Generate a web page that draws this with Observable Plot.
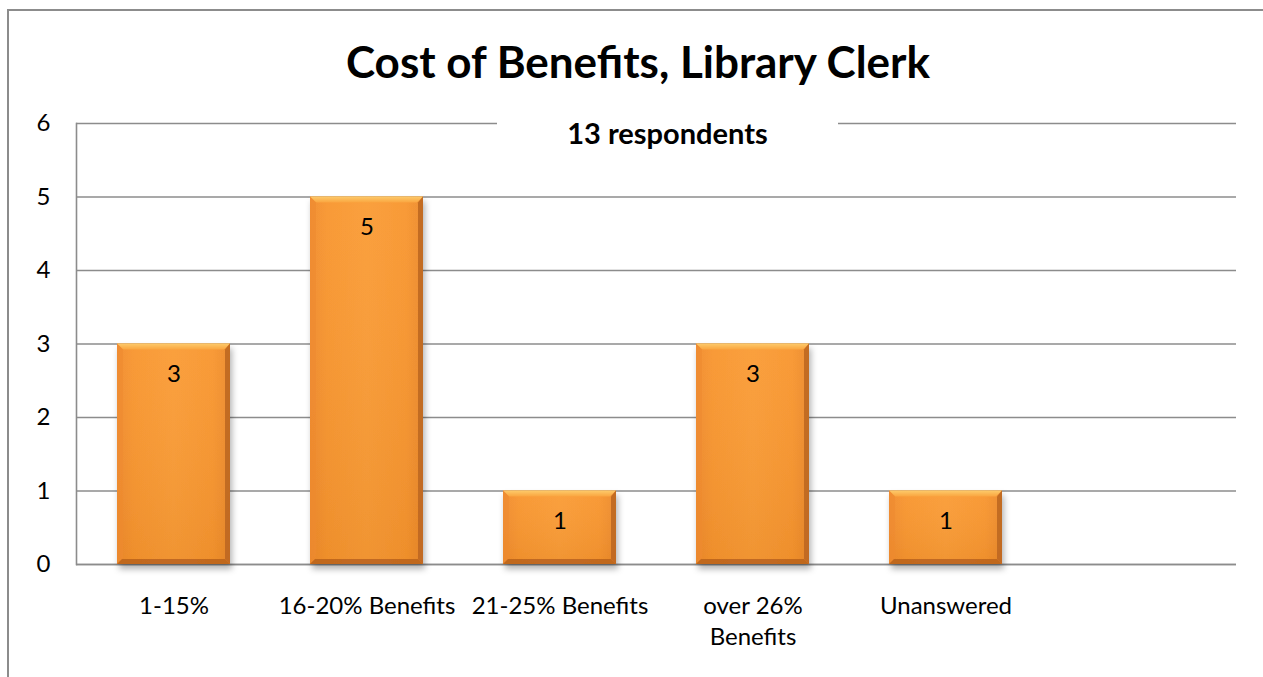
<!DOCTYPE html>
<html>
<head>
<meta charset="utf-8">
<script src="https://cdn.jsdelivr.net/npm/d3@7"></script>
<script src="https://cdn.jsdelivr.net/npm/@observablehq/plot@0.6"></script>
<style>
  html, body { margin: 0; padding: 0; background: #fff; }
  #wrap { position: relative; width: 1263px; height: 677px; overflow: hidden; background: #fff; font-family: Lato, "Open Sans", sans-serif; }
  #border { position: absolute; left: 7px; top: 9px; width: 1400px; height: 800px; border: 2px solid #8c8c8c; box-sizing: border-box; }
  #title { position: absolute; left: 0; top: 39px; width: 1276px; text-align: center; font-weight: bold; font-size: 44px; line-height: 44px; color: #000; }
  #chart { position: absolute; left: 0; top: 100px; }
  #subtitle { position: absolute; left: 497px; top: 111px; width: 341px; height: 44px; background: #fff; text-align: center; font-weight: bold; font-size: 29px; line-height: 44px; color: #000; }
</style>
</head>
<body>
<div id="wrap">
  <div id="border"></div>
  <div id="title">Cost of Benefits, Library Clerk</div>
  <div id="chart"></div>
  <div id="subtitle">13 respondents</div>
</div>
<script>
const categories = ["1-15%", "16-20% Benefits", "21-25% Benefits", "over 26% Benefits", "Unanswered", ""];
const counts = [3, 5, 1, 3, 1];
const yTicks = [0, 1, 2, 3, 4, 5, 6];
const tickLabels = {"over 26% Benefits": "over 26%\nBenefits"};

const data = counts.map((c, i) => ({category: categories[i], count: c}));

const chart = Plot.plot({
  width: 1263,
  height: 577,
  marginTop: 23,
  marginBottom: 113,
  marginLeft: 76,
  marginRight: 27,
  style: {fontFamily: "Lato, 'Open Sans', sans-serif", fontSize: "24px", color: "#000", background: "transparent", overflow: "visible"},
  x: {domain: categories, paddingInner: 0.415, paddingOuter: 0.2075, label: null},
  y: {domain: [0, 6], ticks: yTicks, label: null},
  marks: [
    Plot.gridY(yTicks, {stroke: "#8c8c8c", strokeOpacity: 1, strokeWidth: 1.6}),
    Plot.frame({anchor: "left", stroke: "#8c8c8c", strokeWidth: 1.6}),
    Plot.ruleY([0], {stroke: "#8c8c8c", strokeWidth: 1.6}),
    Plot.axisY(yTicks, {tickSize: 0, tickPadding: 26, fontSize: 24, tickFormat: d => String(d), label: null}),
    Plot.axisX({tickSize: 0, tickPadding: 27, fontSize: 24, lineHeight: 1.3, tickFormat: d => tickLabels[d] ?? d, label: null}),
    Plot.barY(data, {x: "category", y: "count", fill: "url(#barGrad)"}),
    Plot.text(data, {x: "category", y: "count", text: d => String(d.count), dy: 30, fontSize: 24, fill: "#000"})
  ]
});

document.getElementById("chart").appendChild(chart);

// Decorations: gradients, bevel and shadow (derived from the bars Plot rendered)
const svg = d3.select(chart);
const defs = svg.insert("defs", ":first-child");
const hg = defs.append("linearGradient").attr("id", "barGrad").attr("x1", 0).attr("x2", 1).attr("y1", 0).attr("y2", 0);
[[0, "#F18C2E"], [0.15, "#F8962F"], [0.5, "#FA9C36"], [0.85, "#F8962F"], [1, "#EC8A2C"]].forEach(([o, c]) => hg.append("stop").attr("offset", o).attr("stop-color", c));
const vg = defs.append("linearGradient").attr("id", "barShade").attr("x1", 0).attr("x2", 0).attr("y1", 0).attr("y2", 1);
[[0, "#ffffff", 0.04], [1, "#7a3a00", 0.08]].forEach(([o, c, a]) => vg.append("stop").attr("offset", o).attr("stop-color", c).attr("stop-opacity", a));
const tg = defs.append("linearGradient").attr("id", "bevTop").attr("x1", 0).attr("x2", 0).attr("y1", 0).attr("y2", 1);
[[0, "#FDCB6C"], [1, "#FAA53F"]].forEach(([o, c]) => tg.append("stop").attr("offset", o).attr("stop-color", c));
const f = defs.append("filter").attr("id", "barShadow").attr("x", "-10%").attr("y", "-10%").attr("width", "125%").attr("height", "130%");
f.append("feDropShadow").attr("dx", 2).attr("dy", 5).attr("stdDeviation", 3).attr("flood-color", "#000").attr("flood-opacity", 0.3);

const barG = svg.select('g[aria-label="bar"]');
barG.attr("filter", "url(#barShadow)");
const rects = barG.selectAll("rect").nodes();
rects.forEach(node => {
  const x = +node.getAttribute("x"), y = +node.getAttribute("y");
  const w = +node.getAttribute("width"), h = +node.getAttribute("height");
  const b = 6;
  const g = barG.append("g");
  g.append("rect").attr("x", x).attr("y", y).attr("width", w).attr("height", h).attr("fill", "url(#barShade)");
  const poly = (pts, fill, op) => g.append("polygon").attr("points", pts.map(p => p.join(",")).join(" ")).attr("fill", fill).attr("fill-opacity", op);
  poly([[x, y], [x + w, y], [x + w - b, y + b], [x + b, y + b]], "url(#bevTop)", 1);
  poly([[x, y], [x + b, y + b], [x + b, y + h - b], [x, y + h]], "#EE8A2E", 0.6);
  poly([[x + w, y], [x + w, y + h], [x + w - 5, y + h - 5], [x + w - 5, y + b]], "#BE6820", 0.9);
  poly([[x, y + h], [x + w, y + h], [x + w - 5, y + h - 5], [x + 5, y + h - 5]], "#B8621D", 0.85);
});
</script>
</body>
</html>
